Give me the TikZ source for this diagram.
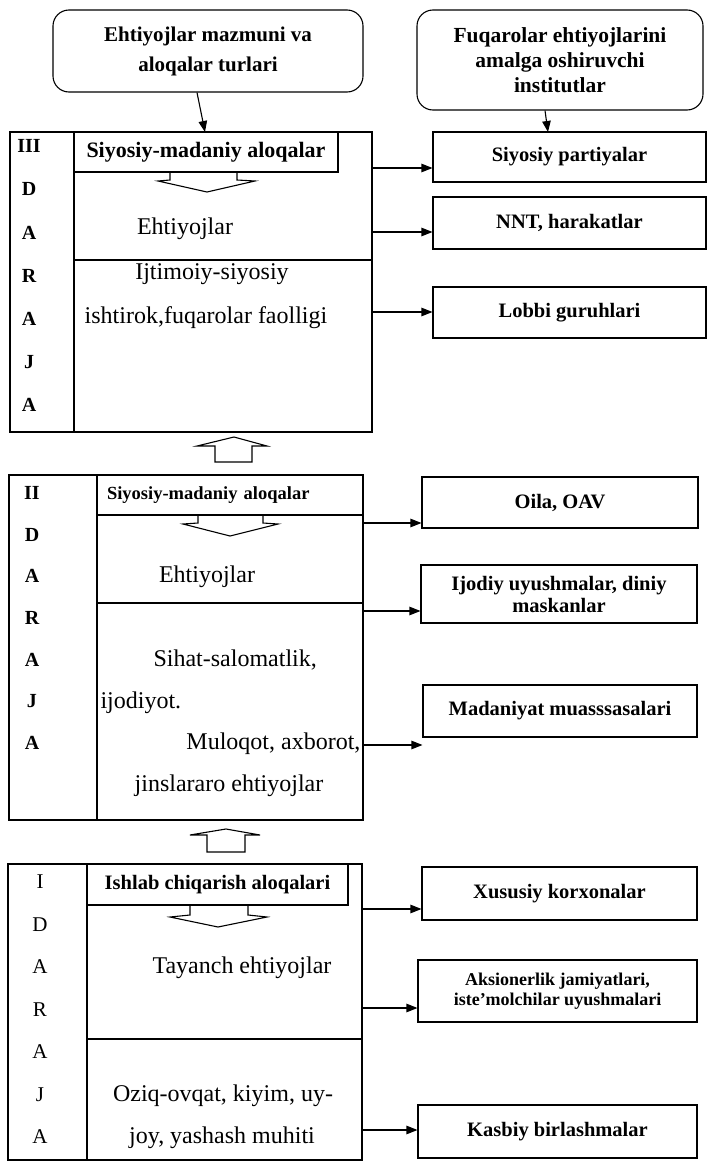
\documentclass[tikz,border=0pt]{standalone}
\usepackage{fontspec}
\setmainfont{Liberation Serif}
\usetikzlibrary{arrows.meta}
\begin{document}
\begin{tikzpicture}[x=1pt,y=-1pt, line width=1.1pt,
 box/.style={draw, rectangle, inner sep=0pt, align=center},
 rbox/.style={draw, rounded corners=16pt, inner sep=0pt, align=center},
 inst/.style={box, font=\fontsize{20.5}{22}\selectfont\bfseries},
 txt/.style={inner sep=0pt, font=\fontsize{24}{28}\selectfont, text height=17pt, text depth=5pt},
 lett/.style={inner sep=0pt, font=\fontsize{20}{24}\selectfont\bfseries},
 lettr/.style={inner sep=0pt, font=\fontsize{21}{24}\selectfont},
 arr/.style={-{Triangle[length=11pt,width=8.5pt]}},
 outline/.style={draw, line width=1.1pt},
]
\useasboundingbox (0,0) rectangle (707,1170);

% top boxes
\node[rbox, minimum width=310pt, minimum height=82pt, font=\fontsize{21}{30}\selectfont\bfseries] (tl) at (208,51) {Ehtiyojlar mazmuni va\\aloqalar turlari};
\node[rbox, minimum width=286pt, minimum height=100pt, font=\fontsize{21.5}{25}\selectfont\bfseries] (tr) at (560,60) {Fuqarolar ehtiyojlarini\\amalga oshiruvchi\\institutlar};

% ===== Level III =====
\node[box, minimum width=362pt, minimum height=300pt] (L3) at (191,282) {};
\draw (74,132) -- (74,432);
\node[box, minimum width=264pt, minimum height=40pt, font=\fontsize{22}{24}\selectfont\bfseries] (h3) at (206,152) {Siyosiy-madaniy aloqalar};
\draw (74,260) -- (372,260);
\draw (170,172) -- (170,180) -- (158,181) -- (207,192) -- (255,181) -- (237,180) -- (237,172);
\foreach \t [count=\i from 0] in {III,D,A,R,A,J,A}
  \node[lett] (l3\i) at (29,146+43.2*\i) {\t};
\node[txt] (e3) at (185,228) {Ehtiyojlar};
\node[txt] (i3a) at (212,273) {Ijtimoiy-siyosiy};
\node[txt] (i3b) at (206,317) {ishtirok,fuqarolar faolligi};

\node[inst, minimum width=273pt, minimum height=50pt] (sp) at (569.5,157) {Siyosiy partiyalar};
\node[inst, minimum width=273pt, minimum height=52pt] (nnt) at (569.5,223) {NNT, harakatlar};
\node[inst, minimum width=273pt, minimum height=51pt] (lob) at (569.5,312.5) {Lobbi guruhlari};

\draw[arr] (tl.south -| 197,0) -- (205,132);
\draw[arr] (tr.south -| 545,0) -- (548,132);
\draw[arr] (L3.east |- 0,168) -- (sp.west |- 0,168);
\draw[arr] (L3.east |- 0,232) -- (nnt.west |- 0,232);
\draw[arr] (L3.east |- 0,312) -- (lob.west |- 0,312);

% up arrow III <- II
\draw[outline] (215,462) -- (215,446) -- (197,446) -- (234,437) -- (267,446) -- (252,446) -- (252,462) -- cycle;

% ===== Level II =====
\node[box, minimum width=354pt, minimum height=345pt] (L2) at (186,647.5) {};
\draw (97,475) -- (97,820);
\node[box, minimum width=266pt, minimum height=40pt, text width=246pt, align=left, font=\fontsize{18.5}{22}\selectfont\bfseries] (h2) at (230,495) {Siyosiy-madaniy aloqalar};
\draw (97,603) -- (363,603);
\draw (198,515) -- (198,523) -- (183,524) -- (230,536) -- (278,524) -- (263,523) -- (263,515);
\foreach \t [count=\i from 0] in {II,D,A,R,A,J,A}
  \node[lett] (l2\i) at (32,493+41.67*\i) {\t};
\node[txt] (e2) at (207,576) {Ehtiyojlar};
\node[txt, anchor=west] (s2a) at (153,660) {Sihat-salomatlik,};
\node[txt, anchor=west] (s2b) at (100,702) {ijodiyot.};
\node[txt, anchor=east] (s2c) at (361,743) {Muloqot, axborot,};
\node[txt] (s2d) at (229,785) {jinslararo ehtiyojlar};

\node[inst, minimum width=276pt, minimum height=51pt] (oila) at (560,502.5) {Oila, OAV};
\node[inst, minimum width=276pt, minimum height=58pt, font=\fontsize{20.5}{22}\selectfont\bfseries] (ijod) at (559,594) {Ijodiy uyushmalar, diniy\\maskanlar};
\node[inst, minimum width=274pt, minimum height=52pt] (mad) at (560,711) {Madaniyat muasssasalari};

\draw[arr] (L2.east |- 0,523) -- (oila.west |- 0,523);
\draw[arr] (L2.east |- 0,611) -- (ijod.west |- 0,611);
\draw[arr] (L2.east |- 0,745) -- (mad.west |- 0,745);

% up arrow II <- I
\draw[outline] (207,852) -- (207,835) -- (190,835) -- (226,829) -- (260,835) -- (245,835) -- (245,852) -- cycle;

% ===== Level I =====
\node[box, minimum width=354pt, minimum height=296pt] (L1) at (185,1012) {};
\draw (87,864) -- (87,1160);
\node[box, minimum width=261pt, minimum height=41pt, font=\fontsize{20.5}{22}\selectfont\bfseries] (h1) at (217.5,884.5) {Ishlab chiqarish aloqalari};
\draw (87,1039) -- (362,1039);
\draw (190,905) -- (190,915) -- (170,917) -- (218,927) -- (267,917) -- (248,915) -- (248,905);
\foreach \t [count=\i from 0] in {I,D,A,R,A,J,A}
  \node[lettr] (l1\i) at (40,882+42.5*\i) {\t};
\node[txt] (t1) at (242,967) {Tayanch ehtiyojlar};
\node[txt] (o1a) at (223,1095) {Oziq-ovqat, kiyim, uy-};
\node[txt] (o1b) at (222,1137) {joy, yashash muhiti};

\node[inst, minimum width=275pt, minimum height=53pt] (xus) at (559.5,893.5) {Xususiy korxonalar};
\node[inst, minimum width=279pt, minimum height=62pt, font=\fontsize{18}{20}\selectfont\bfseries] (aks) at (557.5,991) {Aksionerlik jamiyatlari,\\iste’molchilar uyushmalari};
\node[inst, minimum width=279pt, minimum height=53pt] (kas) at (557.5,1131.5) {Kasbiy birlashmalar};

\draw[arr] (L1.east |- 0,909) -- (xus.west |- 0,909);
\draw[arr] (L1.east |- 0,1008) -- (aks.west |- 0,1008);
\draw[arr] (L1.east |- 0,1130) -- (kas.west |- 0,1130);
\end{tikzpicture}
\end{document}
